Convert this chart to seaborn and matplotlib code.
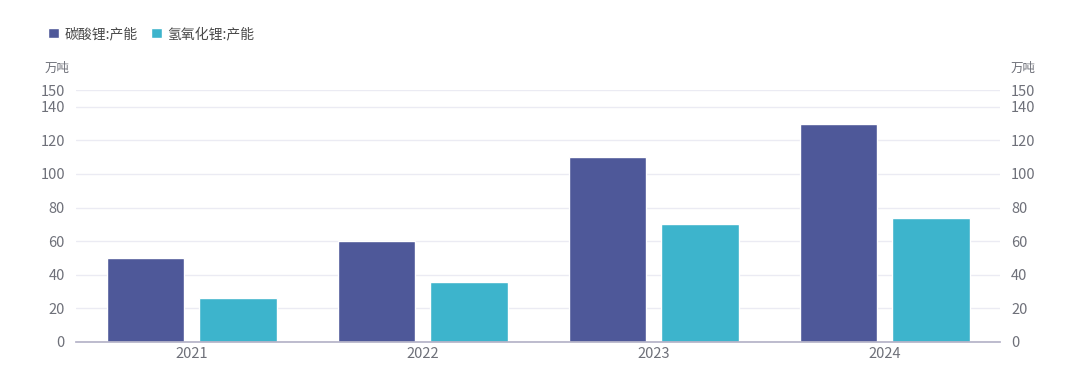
import pandas as pd
import matplotlib.pyplot as plt
import seaborn as sns

sns.set_theme(style='white')
plt.rcParams['font.family'] = ['Noto Sans CJK SC', 'DejaVu Sans']

years = ['2021', '2022', '2023', '2024']
carbonate = [50, 60, 110, 130]
hydroxide = [26, 36, 70, 74]
series = ['碳酸锂:产能', '氢氧化锂:产能']
yticks = [0, 20, 40, 60, 80, 100, 120, 140, 150]

df = pd.DataFrame({
    'year': years * 2,
    'value': carbonate + hydroxide,
    'series': [series[0]] * 4 + [series[1]] * 4,
})

text_color = '#6e7079'
fig = plt.figure(figsize=(10.8, 3.92), dpi=100)
ax = fig.add_axes([0.0704, 0.1276, 0.8556, 0.6428])

sns.barplot(data=df, x='year', y='value', hue='series', hue_order=series,
            palette=['#4e5899', '#3db4cc'], width=0.8, gap=0.16,
            saturation=1, ax=ax)

ax.set_ylim(0, 150)
ax.set_xlim(-0.5, 3.5)
ax.set_yticks(yticks)
ax.set_xlabel('')
ax.set_ylabel('')
ax.grid(axis='y', color='#ebebf3', linewidth=1)
ax.set_axisbelow(True)
for s in ['top', 'left', 'right']:
    ax.spines[s].set_visible(False)
ax.spines['bottom'].set_color('#b5b3c8')
ax.tick_params(axis='both', length=0, labelsize=10.5, colors=text_color)
ax.tick_params(axis='y', pad=8)

ax2 = ax.twinx()
ax2.set_ylim(0, 150)
ax2.set_yticks(yticks)
for s in ['top', 'left', 'right', 'bottom']:
    ax2.spines[s].set_visible(False)
ax2.tick_params(axis='y', length=0, labelsize=10.5, colors=text_color, pad=8)

fig.text(0.053, 0.826, '万吨', fontsize=9, color=text_color, ha='center', va='center')
fig.text(0.947, 0.826, '万吨', fontsize=9, color=text_color, ha='center', va='center')

handles, labels = ax.get_legend_handles_labels()
ax.legend_.remove()
fig.legend(handles, labels, loc='center left', bbox_to_anchor=(0.033, 0.913),
           ncol=2, frameon=False, fontsize=10, handlelength=0.75, handleheight=0.75,
           handletextpad=0.4, columnspacing=1.0, labelcolor='#4a4a4a')

fig.savefig('out.png', dpi=100)
